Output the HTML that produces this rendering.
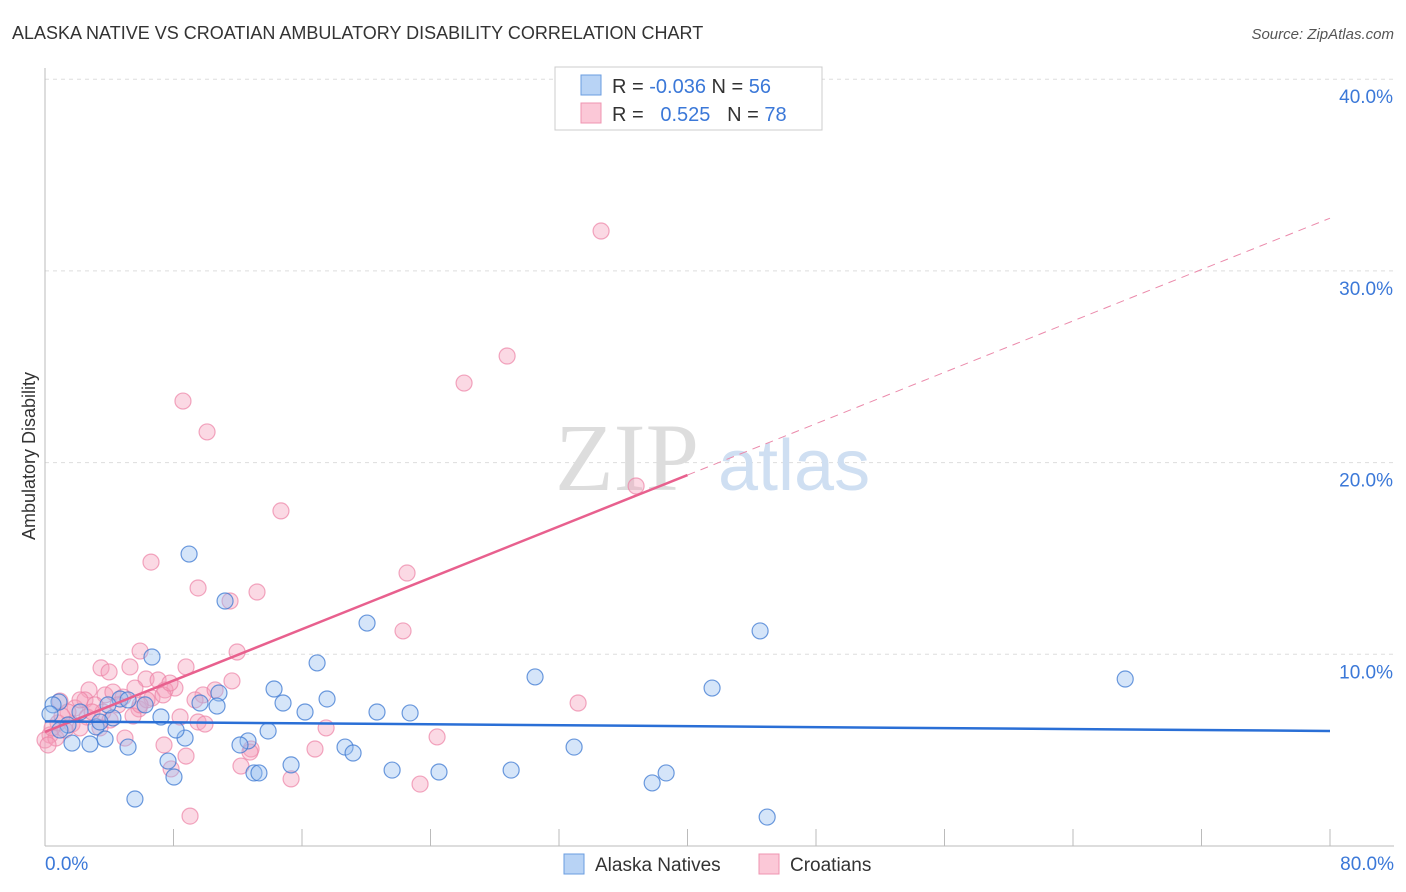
<!DOCTYPE html>
<html><head><meta charset="utf-8"><style>
body{margin:0;background:#fff;font-family:"Liberation Sans",sans-serif}
svg{display:block}
</style></head><body>
<svg id="c" width="1406" height="892" xmlns="http://www.w3.org/2000/svg">
<text x="12" y="39" font-size="18" fill="#333">ALASKA NATIVE VS CROATIAN AMBULATORY DISABILITY CORRELATION CHART</text>
<text x="1394" y="39" font-size="15" fill="#555" text-anchor="end" font-style="italic">Source: ZipAtlas.com</text>
<text x="35" y="456" font-size="18" fill="#333" text-anchor="middle" transform="rotate(-90 35 456)">Ambulatory Disability</text>
<g id="grid"></g>
<text x="555" y="490" font-size="96" fill="#ddd" font-family="Liberation Serif">ZIP</text>
<text x="718" y="490" font-size="72" fill="#cfdff2">atlas</text>
<g id="pts"></g>
<g id="lines"></g>
<g>
<rect x="555" y="67" width="267" height="63" fill="#fff" stroke="#ccc"/>
<rect x="581" y="75" width="20" height="20" fill="#b8d3f5" stroke="#6a9de0"/>
<rect x="581" y="103" width="20" height="20" fill="#fbc8d7" stroke="#ef94b0"/>
<text x="612" y="93" font-size="20" fill="#333">R = <tspan fill="#3b78d8">-0.036</tspan>   N = <tspan fill="#3b78d8">56</tspan></text>
<text x="612" y="121" font-size="20" fill="#333" xml:space="preserve">R =   <tspan fill="#3b78d8">0.525</tspan>   N = <tspan fill="#3b78d8">78</tspan></text>
</g>
<g>
<rect x="564" y="854" width="20" height="20" fill="#b8d3f5" stroke="#6a9de0"/>
<text x="595" y="871" font-size="19" fill="#333">Alaska Natives</text>
<rect x="759" y="854" width="20" height="20" fill="#fbc8d7" stroke="#ef94b0"/>
<text x="790" y="871" font-size="19" fill="#333">Croatians</text>
</g>
</svg>
<script>
const yTicks=[10,20,30,40];
const yTickLabels=["10.0%","20.0%","30.0%","40.0%"];
const xEndLabels=["0.0%","80.0%"];
const blueX=[8.97,11.21,20.05,6.66,44.52,16.94,67.25,30.51,41.53,14.26,10.83,17.56,14.82,9.65,10.71,6.23,0.87,0.50,4.23,7.22,16.19,20.67,22.73,4.67,5.17,3.18,1.68,2.80,3.74,5.17,13.89,12.64,8.72,18.68,19.18,32.94,7.66,8.03,13.01,13.32,15.32,21.61,24.53,29.02,37.80,38.67,5.60,44.96,0.31,2.18,1.43,3.42,0.93,8.16,3.92,12.14];
const blueY=[15.23,12.78,11.63,9.86,11.22,9.55,8.71,8.82,8.24,8.19,7.98,7.67,7.46,7.46,7.30,7.36,7.51,7.36,6.68,6.73,6.99,6.99,6.94,7.67,7.62,6.21,5.37,5.32,5.58,5.16,6.00,5.48,5.63,5.16,4.85,5.16,4.43,3.60,3.81,3.81,4.23,3.96,3.86,3.96,3.29,3.81,2.45,1.51,6.89,6.99,6.31,6.47,6.05,6.05,7.36,5.27];
const pinkX=[34.62,28.77,26.09,8.59,10.09,36.80,14.69,6.60,22.54,9.53,13.20,11.52,22.29,5.92,11.96,3.49,5.29,8.78,3.99,11.64,2.74,8.09,6.29,7.04,7.47,3.74,4.23,5.60,2.49,3.11,4.86,6.66,9.84,7.35,0.93,1.87,1.43,5.85,3.61,8.41,9.53,5.48,33.19,2.62,0.81,1.68,2.18,0.31,0.00,0.68,1.25,4.98,7.41,17.50,24.41,16.81,12.83,12.20,8.78,7.85,15.32,23.35,9.03,2.93,4.05,6.35,4.55,0.44,3.42,1.06,2.18,9.34,9.96,12.76,5.92,7.78,10.59,0.19];
const pinkY=[32.08,25.56,24.15,23.21,21.60,18.78,17.48,14.81,14.24,13.46,13.25,12.78,11.22,10.17,10.12,9.29,9.34,9.34,9.08,8.61,8.14,8.24,8.71,8.66,8.14,7.88,8.03,8.24,7.62,7.36,7.77,7.72,7.88,7.88,7.56,7.20,6.99,7.15,6.99,6.73,6.47,6.78,7.46,6.73,6.42,6.36,6.16,5.79,5.53,5.63,6.05,5.63,5.27,6.16,5.69,5.06,5.06,4.17,4.69,4.02,3.50,3.23,1.56,6.99,6.57,7.62,7.36,6.16,6.16,6.78,7.62,7.62,6.36,4.90,7.36,8.50,8.14,5.27];
const blueLine=[6.5,6.0];
const pinkLine=[5.95,32.75];
const pinkSolidEnd=40;
const NS="http://www.w3.org/2000/svg";
const sx=v=>45+v/80*1285;
const sy=v=>846-v*19.17;
function mk(t,a,p){const e=document.createElementNS(NS,t);for(const k in a)e.setAttribute(k,a[k]);p.appendChild(e);return e;}
const grid=document.getElementById('grid');
yTicks.forEach((t,i)=>{
 const l=mk('line',{x1:45,x2:1394,y1:sy(t),y2:sy(t),stroke:'#ddd','stroke-dasharray':'4,4'},grid);
 
 
 const tx=mk('text',{x:1393,y:sy(t)+24,'font-size':19,fill:'#3b78d8','text-anchor':'end'},grid);
 tx.textContent=yTickLabels[i];
 
 
});
const ax=mk('line',{x1:45,x2:45,y1:68,y2:846,stroke:'#bbb'},grid);


const bx=mk('line',{x1:45,x2:1394,y1:846,y2:846,stroke:'#bbb'},grid);


for(let i=0;i<=10;i++){
 const t=mk('line',{x1:sx(i*8),x2:sx(i*8),y1:829,y2:846,stroke:'#bbb'},grid);
 
 
}
[[0,'start',45],[80,'end',1394]].forEach((d,i)=>{
 const tx=mk('text',{x:d[2],y:870,'font-size':19,fill:'#3b78d8','text-anchor':d[1]},grid);
 tx.textContent=xEndLabels[i];
 
 
});
const pts=document.getElementById('pts');
pinkX.forEach((x,i)=>{
 const c=mk('circle',{cx:sx(x),cy:sy(pinkY[i]),r:8,fill:'rgba(246,160,188,0.4)',stroke:'rgba(236,130,165,0.7)','stroke-width':1.2},pts);
 
 
});
blueX.forEach((x,i)=>{
 const c=mk('circle',{cx:sx(x),cy:sy(blueY[i]),r:8,fill:'rgba(150,190,240,0.4)',stroke:'rgba(60,120,210,0.75)','stroke-width':1.2},pts);
 
 
});
const lines=document.getElementById('lines');
const pAt=x=>pinkLine[0]+(pinkLine[1]-pinkLine[0])*x/80;
const p1=mk('line',{x1:sx(0),y1:sy(pinkLine[0]),x2:sx(pinkSolidEnd),y2:sy(pAt(pinkSolidEnd)),stroke:'#e8608e','stroke-width':2.5},lines);


const p2=mk('line',{x1:sx(pinkSolidEnd),y1:sy(pAt(pinkSolidEnd)),x2:sx(80),y2:sy(pinkLine[1]),stroke:'#eb8aab','stroke-width':1,'stroke-dasharray':'8,6'},lines);


const b1=mk('line',{x1:sx(0),y1:sy(blueLine[0]),x2:sx(80),y2:sy(blueLine[1]),stroke:'#2a6fd6','stroke-width':2.5},lines);


</script>
</body></html>
